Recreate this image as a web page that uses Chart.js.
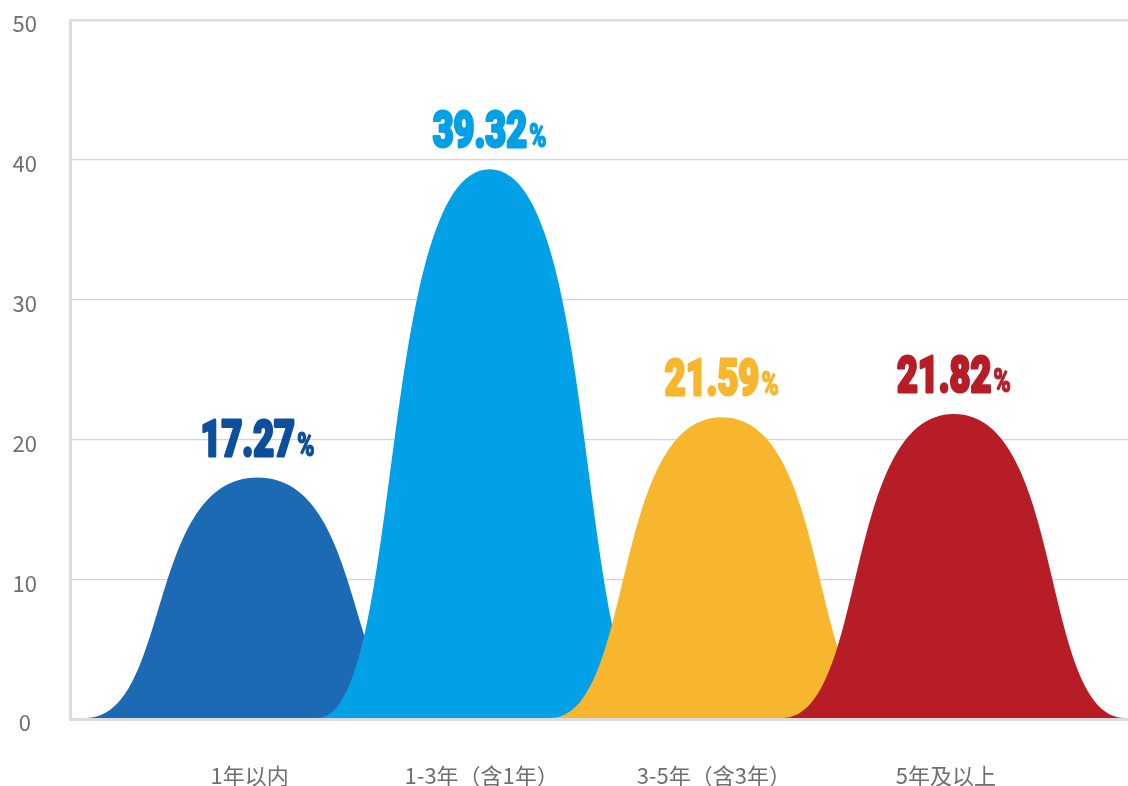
<!DOCTYPE html>
<html>
<head>
<meta charset="utf-8">
<script src="https://cdn.jsdelivr.net/npm/chart.js@4.4.1/dist/chart.umd.min.js"></script>
<style>
  html, body { margin: 0; padding: 0; background: #ffffff; }
  #wrap { width: 1128px; height: 786px; position: relative; }
</style>
</head>
<body>
<div id="wrap"><canvas id="c"></canvas></div>
<script>
// ---- data ----
const categories = ['1年以内', '1-3年（含1年）', '3-5年（含3年）', '5年及以上'];
const values = [17.27, 39.32, 21.59, 21.82];
const fillColors = ['#1d6ab4', '#02a0e6', '#f7b62d', '#b71d27'];
const labelColors = ['#0c4f9c', '#02a0e6', '#f7b62d', '#b71d27'];
const yTickValues = [0, 10, 20, 30, 40, 50];

// ---- style constants ----
const BELL_HALF = 0.74;   // half width of each bell, in category units
const C1 = 0.5, C2 = 0.35;
const SX = 0.72;          // horizontal condensing of value labels

Chart.defaults.font.family = '"Noto Sans CJK SC", "Noto Sans", sans-serif';

const bellPlugin = {
  id: 'bells',
  beforeDatasetsDraw(chart) {
    const ctx = chart.ctx, xs = chart.scales.x, ys = chart.scales.y;
    const meta = chart.getDatasetMeta(0);
    const base = ys.getPixelForValue(0) - 1;
    ctx.save();
    meta.data.forEach((el, i) => {
      const px = el.x, py = el.y;
      const half = xs.getPixelForValue(i + BELL_HALF) - px;
      const l = px - half, r = px + half;
      ctx.beginPath();
      ctx.moveTo(l, base);
      ctx.bezierCurveTo(l + C1 * half, base, l + C2 * half, py, px, py);
      ctx.bezierCurveTo(r - C2 * half, py, r - C1 * half, base, r, base);
      ctx.closePath();
      ctx.fillStyle = fillColors[i];
      ctx.fill();
    });
    ctx.restore();
  },
  afterDatasetsDraw(chart) {
    const ctx = chart.ctx;
    const meta = chart.getDatasetMeta(0);
    meta.data.forEach((el, i) => {
      const num = values[i].toFixed(2);
      ctx.save();
      ctx.translate(el.x, el.y - 22);
      ctx.scale(SX, 1);
      ctx.textBaseline = 'alphabetic';
      ctx.textAlign = 'left';
      ctx.fillStyle = labelColors[i];
      ctx.strokeStyle = labelColors[i];
      ctx.lineJoin = 'round';
      const numFont = '900 50px Roboto, "Liberation Sans", sans-serif';
      const pctFont = '900 33px Roboto, "Liberation Sans", sans-serif';
      ctx.font = numFont;
      const wn = ctx.measureText(num).width;
      ctx.font = pctFont;
      const wp = ctx.measureText('%').width;
      const gap = 2 / SX;
      const start = -(wn + gap + wp) / 2;
      ctx.font = numFont;
      ctx.lineWidth = 3;
      ctx.fillText(num, start, 0);
      ctx.strokeText(num, start, 0);
      ctx.font = pctFont;
      ctx.lineWidth = 1.2;
      ctx.fillText('%', start + wn + gap, 0);
      ctx.strokeText('%', start + wn + gap, 0);
      ctx.restore();
    });
  }
};

new Chart(document.getElementById('c'), {
  type: 'scatter',
  data: {
    datasets: [{
      data: values.map((v, i) => ({ x: i, y: v })),
      pointRadius: 0,
      pointHoverRadius: 0,
      showLine: false
    }]
  },
  options: {
    responsive: true,
    maintainAspectRatio: false,
    animation: false,
    events: [],
    layout: { padding: { top: 20, right: 0, left: 0, bottom: 0 } },
    plugins: { legend: { display: false }, tooltip: { enabled: false } },
    scales: {
      x: {
        type: 'linear',
        min: -0.808,
        max: 3.75,
        afterBuildTicks(scale) { scale.ticks = categories.map((c, i) => ({ value: i })); },
        afterFit(scale) { scale.height = 67; scale.paddingLeft = 0; scale.paddingRight = 0; },
        grid: { display: false, drawTicks: false },
        border: { display: true, color: '#dcdcdc', width: 3 },
        ticks: {
          padding: 43,
          labelOffset: -8,
          color: '#6e6e6e',
          font: { size: 22 },
          maxRotation: 0,
          autoSkip: false,
          callback: (v) => categories[v]
        }
      },
      y: {
        min: 0,
        max: 50,
        afterBuildTicks(scale) { scale.ticks = yTickValues.map(v => ({ value: v })); },
        afterFit(scale) { scale.width = 70; scale.paddingTop = 0; scale.paddingBottom = 0; },
        grid: {
          drawTicks: false,
          color: (c) => c.tick && c.tick.value === 50 ? '#dcdcdc' : '#d4d4d4',
          lineWidth: (c) => c.tick && c.tick.value === 50 ? 2.6 : 1.3
        },
        border: { display: true, color: '#dcdcdc', width: 3 },
        ticks: {
          crossAlign: 'center',
          padding: 33,
          labelOffset: 4,
          color: '#6e6e6e',
          font: { size: 22 }
        }
      }
    }
  },
  plugins: [bellPlugin]
});
</script>
</body>
</html>
